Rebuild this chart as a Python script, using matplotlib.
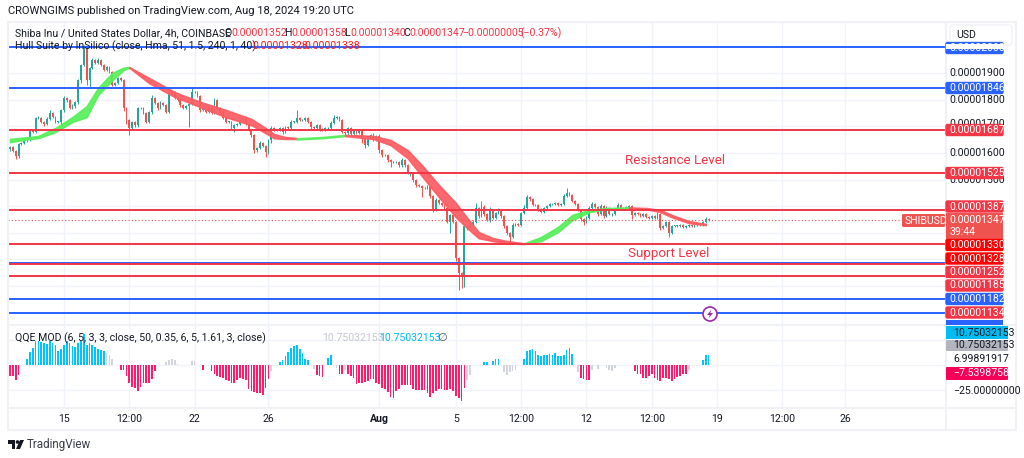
import numpy as np
from matplotlib import pyplot as plt
from matplotlib.patches import Rectangle, Circle, Polygon, FancyBboxPatch

# prices are in units of 0.00000001 USD
closes = [
    1623, 1608, 1589, 1634, 1638, 1649, 1649, 1686, 1679, 1732,
    1732, 1717, 1709, 1728, 1750, 1735, 1717, 1717, 1762, 1807,
    1799, 1769, 1777, 1792, 1874, 1931, 1999, 1874, 1920, 1950,
    1938, 1950, 1931, 1912, 1923, 1905, 1856, 1863, 1882, 1874,
    1769, 1724, 1694, 1717, 1705, 1769, 1769, 1750, 1717, 1754,
    1807, 1788, 1769, 1788, 1780, 1754, 1826, 1829, 1807, 1799,
    1780, 1769, 1777, 1784, 1829, 1829, 1814, 1762, 1769, 1754,
    1777, 1750, 1799, 1769, 1754, 1732, 1717, 1717, 1694, 1705,
    1709, 1724, 1732, 1709, 1686, 1668, 1611, 1619, 1638, 1626,
    1604, 1649, 1694, 1686, 1686, 1694, 1679, 1698, 1694, 1717,
    1717, 1732, 1724, 1724, 1732, 1717, 1698, 1694, 1705, 1690,
    1686, 1694, 1694, 1713, 1732, 1735, 1724, 1679, 1675, 1694,
    1671, 1683, 1675, 1686, 1656, 1630, 1656, 1668, 1649, 1664,
    1611, 1592, 1592, 1574, 1566, 1566, 1566, 1555, 1574, 1555,
    1525, 1525, 1498, 1480, 1476, 1468, 1468, 1476, 1438, 1389,
    1423, 1412, 1404, 1393, 1341, 1367, 1341, 1205, 1149, 1138,
    1326, 1318, 1329, 1341, 1393, 1363, 1397, 1371, 1348, 1386,
    1356, 1374, 1386, 1363, 1326, 1299, 1284, 1329, 1333, 1329,
    1374, 1393, 1435, 1427, 1404, 1404, 1389, 1378, 1393, 1401,
    1408, 1408, 1412, 1404, 1408, 1438, 1450, 1442, 1420, 1408,
    1386, 1352, 1341, 1356, 1393, 1408, 1397, 1371, 1401, 1363,
    1393, 1371, 1371, 1389, 1404, 1393, 1389, 1397, 1401, 1367,
    1374, 1371, 1363, 1371, 1359, 1356, 1363, 1356, 1371, 1318,
    1326, 1341, 1299, 1326, 1326, 1326, 1329, 1322, 1326, 1329,
    1326, 1333, 1329, 1329, 1341, 1352, 1347,
]
upper_wick = [
    4, 3, 3, 4, 3, 4, 3, 5, 3, 4,
    6, 3, 4, 8, 10, 4, 3, 5, 4, 6,
    5, 3, 6, 4, 3, 4, 7, 0, 3, 8,
    5, 6, 4, 3, 6, 3, 3, 5, 4, 3,
    3, 3, 5, 4, 3, 5, 4, 3, 4, 4,
    12, 5, 3, 6, 4, 3, 6, 5, 3, 4,
    4, 3, 3, 5, 14, 6, 3, 3, 5, 3,
    5, 3, 6, 3, 3, 4, 3, 3, 3, 5,
    4, 5, 4, 6, 3, 3, 4, 4, 6, 3,
    3, 5, 6, 4, 3, 5, 4, 5, 3, 6,
    5, 30, 4, 3, 5, 3, 4, 3, 5, 3,
    3, 4, 5, 6, 10, 6, 4, 3, 4, 5,
    3, 5, 3, 4, 3, 3, 5, 4, 6, 4,
    8, 3, 4, 3, 4, 5, 3, 4, 6, 3,
    3, 4, 3, 3, 4, 5, 3, 5, 3, 4,
    6, 4, 4, 3, 3, 4, 3, 4, 3, 3,
    4, 3, 4, 6, 18, 5, 22, 6, 4, 10,
    4, 6, 8, 5, 3, 3, 3, 6, 4, 3,
    4, 12, 6, 4, 3, 3, 4, 3, 4, 4,
    4, 3, 3, 4, 3, 6, 18, 5, 4, 3,
    3, 3, 4, 6, 6, 8, 5, 3, 8, 3,
    6, 3, 4, 5, 8, 4, 3, 4, 5, 3,
    3, 4, 3, 4, 3, 3, 4, 3, 6, 3,
    4, 3, 3, 4, 3, 5, 4, 3, 5, 3,
    4, 3, 4, 6, 5, 8, 5,
]
lower_wick = [
    8, 4, 12, 6, 4, 3, 6, 3, 5, 4,
    4, 5, 8, 4, 3, 4, 3, 6, 12, 8,
    6, 4, 3, 8, 6, 10, 4, 20, 24, 6,
    4, 5, 4, 4, 3, 6, 3, 4, 3, 4,
    10, 15, 25, 6, 8, 6, 3, 4, 6, 5,
    6, 4, 6, 3, 4, 5, 3, 4, 5, 4,
    6, 3, 4, 80, 5, 3, 4, 8, 4, 5,
    4, 5, 3, 6, 4, 3, 5, 4, 6, 14,
    4, 3, 4, 5, 4, 6, 10, 6, 4, 5,
    20, 8, 10, 5, 4, 3, 6, 3, 4, 3,
    4, 3, 4, 3, 3, 6, 10, 4, 3, 6,
    4, 3, 3, 4, 3, 3, 4, 4, 6, 6,
    6, 3, 4, 5, 18, 10, 4, 5, 3, 5,
    10, 6, 4, 8, 20, 4, 5, 6, 8, 6,
    4, 10, 6, 8, 4, 35, 5, 4, 6, 12,
    6, 4, 3, 5, 5, 42, 3, 10, 64, 46,
    42, 8, 3, 3, 5, 6, 4, 8, 5, 6,
    4, 3, 5, 6, 8, 6, 20, 4, 3, 4,
    4, 3, 4, 6, 4, 3, 8, 4, 3, 4,
    3, 4, 3, 4, 3, 4, 3, 3, 4, 3,
    3, 8, 12, 5, 6, 4, 3, 8, 5, 6,
    4, 3, 6, 3, 4, 3, 4, 3, 3, 14,
    3, 4, 5, 3, 4, 3, 4, 3, 3, 6,
    3, 4, 14, 3, 3, 4, 3, 4, 3, 3,
    3, 4, 3, 3, 3, 4, 3,
]
qqe = [
    -11, -11, -15, -10, 0, 0, 6, 13, 17, 24,
    24, 23, 22, 21, 24, 22, 20, 14, 16, 20,
    24, 22, 19, 18, 22, 24, 31, 20, 22, 20,
    18, 16, 15, 14, 12, 10, 6, 0, 0, -5,
    -5, -11, -18, -22, -23, -26, -22, -18, -18, -18,
    -14, -6, 0, 0, 0, 3, 5, 6, 5, 1,
    0, 0, 0, 0, 4, 4, 0, 0, -5, 0,
    0, -6, -9, -11, -12, -13, -15, -16, -18, -18,
    -15, -13, -14, -15, -24, -26, -27, -28, -28, -30,
    -23, -14, -6, 0, 0, 3, 5, 9, 13, 17,
    19, 20, 16, 12, 6, 5, 0, -4, -10, -11,
    -12, 0, 7, 10, 0, -3, -9, -9, -5, -9,
    -11, -13, -19, -18, -18, -17, -16, -14, -14, -18,
    -19, -23, -24, -27, -32, -33, -26, -24, -20, -20,
    -20, -20, -24, -25, -25, -25, -25, -28, -32, -28,
    -26, -24, -24, -25, -25, -24, -26, -31, -33, -36,
    -23, -15, -10, 0, 0, 0, 0, 3, 3, 0,
    4, 6, 6, 0, -7, -10, -7, -6, -5, 0,
    0, 6, 14, 15, 16, 14, 10, 9, 10, 10,
    11, 10, 12, 9, 9, 10, 15, 17, 11, 0,
    -7, -13, -14, -15, -15, -5, 0, -4, 0, 0,
    -3, -5, -6, -3, 0, 0, 0, 0, 0, 0,
    -6, -9, -9, -13, -13, -11, -9, -13, -15, -16,
    -13, -13, -14, -16, -14, -12, -11, -9, -9, -5,
    0, 0, 0, 0, 5, 10, 10,
]
qqe_grey = [34, 35, 36, 55, 56, 57, 58, 59, 64, 65, 92, 107, 115, 118, 161, 162,
            174, 175, 176, 177, 178, 200, 205, 207, 210, 211, 212, 213, 239]

# hull band, pieces of one colour each: bar index, upper edge, lower edge
hull_g1_idx = [0, 7, 10, 16, 22, 27, 31, 36, 40, 42]
hull_g1_up = [1653, 1660, 1664, 1694, 1735, 1776, 1844, 1901, 1921, 1923]
hull_g1_lo = [1641, 1653, 1656, 1679, 1717, 1735, 1818, 1874, 1912, 1921]
hull_r1_idx = [42, 49, 58, 67, 76, 85, 90, 93, 97, 101]
hull_r1_up = [1923, 1882, 1829, 1792, 1762, 1728, 1694, 1671, 1660, 1656]
hull_r1_lo = [1921, 1863, 1811, 1773, 1735, 1705, 1675, 1656, 1653, 1653]
hull_g2_idx = [101, 110, 118]
hull_g2_up = [1655, 1660, 1668]
hull_g2_lo = [1651, 1656, 1664]
hull_r2_idx = [118, 128, 134, 140, 145, 151, 157, 161, 165, 170, 175, 181]
hull_r2_up = [1668, 1664, 1649, 1611, 1555, 1480, 1412, 1356, 1303, 1280, 1269, 1260]
hull_r2_lo = [1664, 1653, 1630, 1581, 1514, 1435, 1359, 1318, 1280, 1269, 1261, 1258]
hull_g3_idx = [181, 187, 193, 198, 204, 210, 218]
hull_g3_up = [1260, 1284, 1322, 1367, 1386, 1393, 1395]
hull_g3_lo = [1258, 1269, 1303, 1348, 1378, 1389, 1393]
hull_r3_idx = [218, 224, 229, 233, 239, 245]
hull_r3_up = [1395, 1393, 1386, 1367, 1344, 1333]
hull_r3_lo = [1393, 1389, 1378, 1359, 1337, 1329]

blue_levels = [2000, 1846, 1186, 1051, 1000]
red_levels = [1687, 1525, 1387, 1258, 1184, 1137]
price_grid = [1900, 1800, 1700, 1600, 1500, 1400, 1300, 1200, 1100]
last_price = 1347

tick_idx = [19, 42, 65, 91, 130, 157, 180, 203, 226, 249, 272, 294]
tick_labels = ['15', '12:00', '22', '26', 'Aug', '5', '12:00', '12', '12:00', '19', '12:00', '26']

GRID = '#f0f3fa'
TEXT = '#131722'
UP = '#26a69a'
DOWN = '#ef5350'
BLUE = '#2962ff'
RED = '#f23645'
W, H = 1024, 458

plt.rcParams['font.family'] = ['Roboto', 'DejaVu Sans']


def px_axes(left, top, right, bottom):
    return fig.add_axes([left / W, 1 - bottom / H, (right - left) / W, (bottom - top) / H])


def price_tag(y, label, color, tcolor='white', x0=946, x1=1003, h=13):
    over.add_patch(FancyBboxPatch((x0, y - h / 2 + 1), x1 - x0, h - 2, boxstyle='round,pad=0,rounding_size=1.5',
                                  fc=color, ec=color, lw=1, zorder=5))
    over.text(x0 + 3.5, y, label, color=tcolor, fontsize=7.6, va='center', ha='left', zorder=6)


fig = plt.figure(figsize=(W / 100, H / 100), dpi=100, facecolor='white')

# price pane
ax = px_axes(8, 22, 946, 325)
x = np.arange(len(closes))
c = np.array(closes, dtype=float)
o = np.r_[1615, c[:-1]]
hi = np.maximum(o, c) + np.array(upper_wick)
lo = np.minimum(o, c) - np.array(lower_wick)
colors = [UP if c[i] >= o[i] else DOWN for i in x]

for g in price_grid:
    ax.axhline(g, color=GRID, lw=1, zorder=0)
for t in tick_idx:
    ax.axvline(t, color=GRID, lw=1, zorder=0)

ax.vlines(x, lo, hi, colors=colors, lw=0.7, zorder=2)
ax.bar(x, np.maximum(np.abs(c - o), 1.5), bottom=np.minimum(o, c), width=0.62, color=colors, lw=0, zorder=3)

for idx, up, low, col in [(hull_g1_idx, hull_g1_up, hull_g1_lo, '#57ef5a'),
                          (hull_r1_idx, hull_r1_up, hull_r1_lo, '#fb5c62'),
                          (hull_g2_idx, hull_g2_up, hull_g2_lo, '#57ef5a'),
                          (hull_r2_idx, hull_r2_up, hull_r2_lo, '#fb5c62'),
                          (hull_g3_idx, hull_g3_up, hull_g3_lo, '#57ef5a'),
                          (hull_r3_idx, hull_r3_up, hull_r3_lo, '#fb5c62')]:
    ax.fill_between(idx, up, low, color=col, lw=1.2, alpha=0.92, zorder=4)

for lv in blue_levels:
    ax.axhline(lv, color=BLUE, lw=1.4, zorder=5)
for lv in red_levels:
    ax.axhline(lv, color=RED, lw=1.4, zorder=5)
ax.axhline(last_price, color=DOWN, lw=0.8, ls=(0, (1, 2)), zorder=5)

ax.set_xlim(-0.7, 329.6)
ax.set_ylim(953.3, 2092.6)
ax.set_xticks([])
ax.set_yticks([])

# QQE pane
ax2 = px_axes(8, 325, 946, 408)
for g in [25, 0, -25]:
    ax2.axhline(g, color=GRID, lw=1, zorder=0)
for t in tick_idx:
    ax2.axvline(t, color=GRID, lw=1, zorder=0)
qqe_colors = []
for i, v in enumerate(qqe):
    if i in qqe_grey:
        qqe_colors.append('#d1d4dc')
    elif v > 0:
        qqe_colors.append('#00c3ff')
    else:
        qqe_colors.append('#ff1a6c')
ax2.bar(x, qqe, width=0.6, color=qqe_colors, lw=0, zorder=3)
ax2.set_xlim(-0.7, 329.6)
ax2.set_ylim(-43, 40)
ax2.set_xticks([])
ax2.set_yticks([])

for a in (ax, ax2):
    for s in a.spines.values():
        s.set_visible(False)

# overlay in pixel coordinates for the frame, tags and legends
over = fig.add_axes([0, 0, 1, 1], facecolor='none', zorder=10)
over.set_xlim(0, W)
over.set_ylim(H, 0)
over.axis('off')

FRAME = '#eff1f5'
over.add_patch(Rectangle((7.5, 22), 1008, 408, fc='none', ec=FRAME, lw=1.5))
over.plot([946, 946], [22, 430], color=FRAME, lw=1.5)
over.plot([8, 1016], [325, 325], color=FRAME, lw=1.5)
over.plot([8, 1016], [408, 408], color=FRAME, lw=1.5)
over.add_patch(FancyBboxPatch((950, 25), 62, 20, boxstyle='round,pad=0,rounding_size=3', fc='white', ec=FRAME, lw=1))
over.text(956, 35, 'USD', fontsize=7.6, color=TEXT, va='center')

over.text(8, 11, 'CROWNGIMS published on TradingView.com, Aug 18, 2024 19:20 UTC', fontsize=8, color=TEXT, va='center')
over.text(15, 33, 'Shiba Inu / United States Dollar, 4h, COINBASE', fontsize=7.6, color=TEXT, va='center')
for px, s, col in [(224, 'O', TEXT), (231, '0.00001352', RED), (284, 'H', TEXT), (291, '0.00001358', RED),
                   (344, 'L', TEXT), (350, '0.00001340', RED), (403, 'C', TEXT), (409, '0.00001347', RED),
                   (462, '\u22120.00000005', RED), (520, '(\u22120.37%)', RED)]:
    over.text(px, 33, s, fontsize=7.6, color=col, va='center')
over.text(15, 46, 'Hull Suite by InSilico (close, Hma, 51, 1.5, 240, 1, 40)', fontsize=7.6, color=TEXT, va='center')
over.text(252, 46, '0.00001328', fontsize=7.6, color='#ff1a1a', va='center')
over.text(304, 46, '0.00001338', fontsize=7.6, color='#ff1a1a', va='center')

over.text(625, 160, 'Resistance Level', fontsize=9.6, color=RED, va='center')
over.text(628, 254, 'Support Level', fontsize=9.6, color=RED, va='center')

over.text(15, 338, 'QQE MOD (6, 5, 3, 3, close, 50, 0.35, 6, 5, 1.61, 3, close)', fontsize=7.6, color=TEXT, va='center')
over.text(322, 338, '10.75032153', fontsize=7.6, color='#c4c7cf', va='center')
over.text(379, 338, '10.75032153', fontsize=7.6, color='#00bcf2', va='center')
over.text(437, 338, '\u2205', fontsize=8, color='#50535e', va='center', family='DejaVu Sans')

# axis labels on the right
for y, s in [(73, '0.00001900'), (100, '0.00001800'), (153, '0.00001600'), (124, '0.00001700'), (180, '0.00001500')]:
    over.text(949.5, y, s, fontsize=7.6, color=TEXT, va='center')
over.add_patch(Rectangle((946, 40), 57, 9, fc='white', ec='none', zorder=1))
price_tag(48, '0.00002000', BLUE)
over.add_patch(Rectangle((946, 44), 57, 5, fc='white', ec='none', zorder=7))
price_tag(88, '0.00001846', BLUE)
price_tag(130, '0.00001687', RED)
price_tag(173, '0.00001525', RED)
price_tag(206.5, '0.00001387', RED)
over.add_patch(Rectangle((946, 213), 57, 25.5, fc=DOWN, ec='none', zorder=5))
over.text(949.5, 220, '0.00001347', color='white', fontsize=7.6, va='center', zorder=6)
over.text(949.5, 232, '39:44', color='white', fontsize=7.6, va='center', zorder=6)
over.add_patch(FancyBboxPatch((902, 214), 43, 13, boxstyle='round,pad=0,rounding_size=1.5', fc=DOWN, ec='none'))
over.text(905, 220.5, 'SHIBUSD', color='white', fontsize=7.6, va='center')
price_tag(245, '0.00001330', '#ff0000')
price_tag(258.5, '0.00001328', '#ff0000')
price_tag(272, '0.00001252', RED)
price_tag(285.5, '0.00001185', RED)
price_tag(299, '0.00001182', BLUE)
price_tag(312.5, '0.00001134', RED)
over.add_patch(Rectangle((946, 320), 57, 5, fc=BLUE, ec='none', zorder=5))
over.add_patch(Rectangle((946, 326), 62, 12.5, fc='#00bcf2', ec='none', zorder=5))
over.text(953, 332.5, '10.75032153', color=TEXT, fontsize=7.6, va='center', zorder=6)
over.add_patch(FancyBboxPatch((946, 340), 62, 11, boxstyle='round,pad=0,rounding_size=1', fc='#b2b5be', ec='none', zorder=5))
over.text(953, 345.5, '10.75032153', color=TEXT, fontsize=7.6, va='center', zorder=6)
over.text(953, 359, '6.99891917', color=TEXT, fontsize=7.6, va='center')
over.add_patch(FancyBboxPatch((946, 367), 62, 13, boxstyle='round,pad=0,rounding_size=1', fc='#f50057', ec='none', zorder=5))
over.text(953, 373.5, '\u22127.53987588', color='white', fontsize=7.6, va='center', zorder=6)
over.text(953, 391, '\u221225.00000000', color=TEXT, fontsize=7.6, va='center')

# time labels
for t, s in zip(tick_idx, tick_labels):
    px = 10 + 2.84 * t
    over.text(px, 418.5, s, fontsize=7.6, color=TEXT, ha='center', va='center',
              fontweight='bold' if s == 'Aug' else 'normal')

# lightning marker
over.add_patch(Circle((710, 314), 7, fc='white', ec='#9c27b0', lw=1.2, zorder=8))
over.add_patch(Polygon([(711.5, 309.5), (707, 315), (709.8, 315), (708.5, 318.5), (713, 313), (710.2, 313)],
                       fc='#9c27b0', ec='none', zorder=9))

# TradingView logo
over.add_patch(Polygon([(8, 440), (15, 440), (15, 449), (11.5, 449), (11.5, 443.5), (8, 443.5)], fc=TEXT, ec='none'))
over.add_patch(Circle((17.5, 442), 1.8, fc=TEXT, ec='none'))
over.add_patch(Polygon([(20, 440), (24, 440), (20, 449), (16, 449)], fc=TEXT, ec='none'))
over.text(27, 444.5, 'TradingView', fontsize=8.4, color='#3a3d47', va='center')

fig.savefig('out.png', dpi=100)
